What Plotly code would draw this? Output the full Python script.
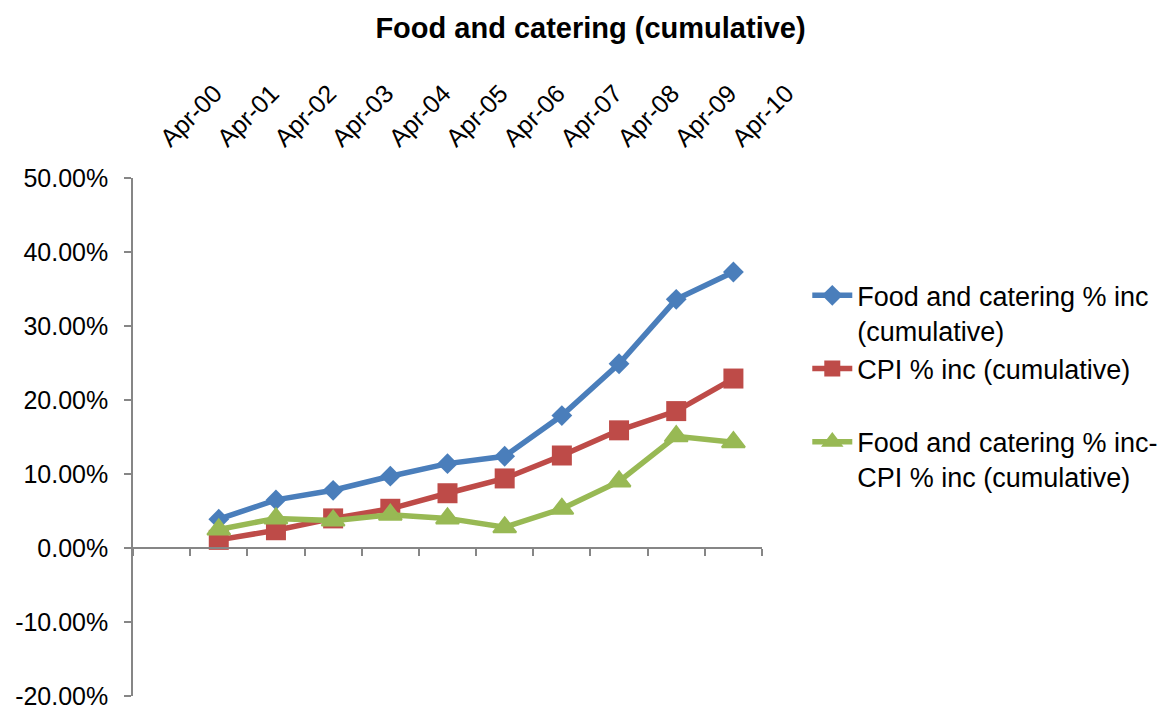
import plotly.graph_objects as go

categories = ["Apr-00", "Apr-01", "Apr-02", "Apr-03", "Apr-04", "Apr-05",
              "Apr-06", "Apr-07", "Apr-08", "Apr-09", "Apr-10"]
data_categories = categories[1:]
food_inc = [3.9, 6.5, 7.8, 9.7, 11.4, 12.4, 17.9, 24.9, 33.6, 37.3]
cpi_inc = [1.1, 2.4, 4.0, 5.3, 7.4, 9.4, 12.5, 15.9, 18.5, 22.9]
diff_inc = [2.5, 4.0, 3.7, 4.5, 4.0, 2.8, 5.3, 9.0, 15.1, 14.3]
y_ticks = [-20, -10, 0, 10, 20, 30, 40, 50]
y_ticktext = [f"{v:.2f}%" for v in y_ticks]

names = ["Food and catering % inc<br>(cumulative)",
         "CPI % inc (cumulative)<br> ",
         "Food and catering % inc-<br>CPI % inc (cumulative)"]
colors = ["#4A7EBB", "#BE4B48", "#98B954"]
symbols = ["diamond", "square", "triangle-up"]
sizes = [16, 20, 20]
outline = [0, 0, 2]

fig = go.Figure()
for vals, name, col, sym, sz, ow in zip([food_inc, cpi_inc, diff_inc], names, colors,
                                        symbols, sizes, outline):
    fig.add_trace(go.Scatter(
        x=data_categories, y=vals, name=name, mode="lines+markers",
        line=dict(color=col, width=5.5),
        marker=dict(symbol=sym, size=sz, color=col, line=dict(color=col, width=ow)),
        xaxis="x", yaxis="y",
    ))

# invisible trace to carry the zero-line category axis
fig.add_trace(go.Scatter(x=categories, y=[None] * len(categories), xaxis="x2", yaxis="y",
                         showlegend=False, hoverinfo="skip", mode="lines"))

ymin, ymax = -20, 50
font = "Liberation Sans, Arial, sans-serif"
fig.update_layout(
    width=1165, height=713,
    paper_bgcolor="white", plot_bgcolor="white",
    margin=dict(l=125, r=411, t=170, b=25, autoexpand=False),
    title=dict(text="<b>Food and catering (cumulative)</b>", x=0.5, xref="container",
               y=1 - 20 / 713, yref="container", yanchor="middle",
               font=dict(family=font, size=29, color="black")),
    font=dict(family=font, color="black"),
    xaxis=dict(type="category", categoryorder="array", categoryarray=categories,
               range=[-0.5, len(categories) - 0.5], side="top", tickangle=-45,
               showline=False, showgrid=False, zeroline=False, ticks="",
               ticklabelstandoff=20,
               tickfont=dict(family=font, size=25, color="black")),
    xaxis2=dict(type="category", categoryorder="array", categoryarray=categories,
                range=[-0.5, len(categories) - 0.5], overlaying="x", anchor="free",
                position=(0 - ymin) / (ymax - ymin), side="bottom",
                showticklabels=False, showline=True, linecolor="#868686", linewidth=1.5,
                ticks="outside", tickson="boundaries", ticklen=7, tickcolor="#868686",
                tickwidth=1.5, showgrid=False, zeroline=False),
    yaxis=dict(range=[ymin, ymax], tickvals=y_ticks, ticktext=y_ticktext,
               showline=True, linecolor="#868686", linewidth=1.5, ticks="outside",
               ticklen=7, tickcolor="#868686", tickwidth=1.5, showgrid=False, zeroline=False,
               ticklabelstandoff=11,
               tickfont=dict(family=font, size=25, color="black")),
    legend=dict(x=1.072, xanchor="left", y=0.82, yanchor="top", valign="top",
                font=dict(family=font, size=27, color="black"),
                bgcolor="rgba(0,0,0,0)", itemwidth=40, tracegroupgap=0),
)

fig.write_html("out.html")
